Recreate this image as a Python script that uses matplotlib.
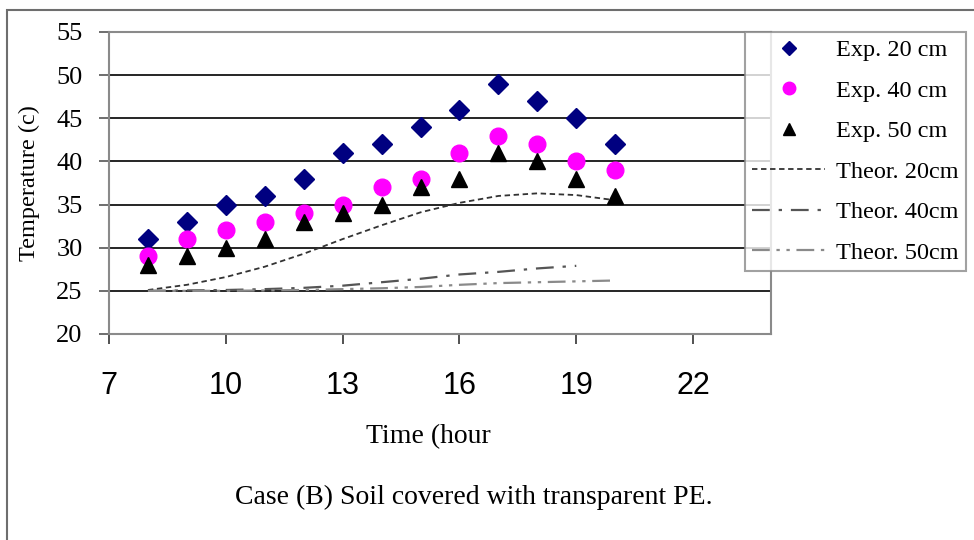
import matplotlib
matplotlib.use("Agg")
import matplotlib.pyplot as plt
from matplotlib import font_manager
from matplotlib.patches import Rectangle

# Hourly readings, 08:00 to 20:00
hours = [8, 9, 10, 11, 12, 13, 14, 15, 16, 17, 18, 19, 20]
exp_20 = [31, 33, 35, 36, 38, 41, 42, 44, 46, 49, 47, 45, 42]
exp_40 = [29, 31, 32, 33, 34, 35, 37, 38, 41, 43, 42, 40, 39]
exp_50 = [28, 29, 30, 31, 33, 34, 35, 37, 38, 41, 40, 38, 36]

theor_20 = [25.1, 25.7, 26.6, 27.8, 29.3, 31.0, 32.6, 34.1, 35.2, 36.0, 36.3, 36.1, 35.5]
hours_t40 = [8, 9, 10, 11, 12, 13, 14, 15, 16, 17, 18, 19]
theor_40 = [25.0, 25.05, 25.1, 25.2, 25.35, 25.6, 26.0, 26.4, 26.9, 27.2, 27.6, 27.9]
hours_t50 = [8, 9, 10, 11, 12, 13, 14, 15, 16, 17, 18, 19, 20]
theor_50 = [25.0, 25.0, 25.0, 25.05, 25.1, 25.2, 25.3, 25.45, 25.7, 25.9, 26.0, 26.1, 26.2]

x_ticks = [7, 10, 13, 16, 19, 22]
y_ticks = [20, 25, 30, 35, 40, 45, 50, 55]

available = {f.name for f in font_manager.fontManager.ttflist}
serif = "Liberation Serif"
narrow = "Liberation Sans Narrow" if "Liberation Sans Narrow" in available else "Liberation Sans"

W, H = 974, 540
fig = plt.figure(figsize=(W / 100, H / 100), dpi=100)

# outer frame of the figure panel
fig.add_artist(Rectangle((7 / W, -0.05), 1.2, 1 - 10 / H + 0.05,
                         transform=fig.transFigure, fill=False,
                         edgecolor="#6e6e6e", linewidth=1.5))

ax = fig.add_axes([109 / W, 1 - 334 / H, (771 - 109) / W, (334 - 32) / H])
ax.set_xlim(7, 24)
ax.set_ylim(20, 55)
ax.set_xticks(x_ticks)
ax.set_yticks(y_ticks)

for v in y_ticks[1:-1]:
    ax.axhline(v, color="black", linewidth=1.2, zorder=1)

for s in ax.spines.values():
    s.set_color("#8a8a8a")
    s.set_linewidth(1.5)

ax.tick_params(axis="y", direction="out", length=7, width=1.2, color="#555555",
               pad=12, labelsize=19)
ax.tick_params(axis="x", direction="out", length=7, width=1.2, color="#333333",
               pad=20, labelsize=22)
for lab in ax.get_yticklabels():
    lab.set_fontfamily(serif)
for lab in ax.get_xticklabels():
    lab.set_fontfamily(narrow)

ax.plot(hours, exp_20, linestyle="none", marker="D", markersize=10,
        color="#000080", label="Exp. 20 cm", zorder=4)
ax.plot(hours, exp_40, linestyle="none", marker="o", markersize=12,
        color="#ff00ff", label="Exp. 40 cm", zorder=4)
ax.plot(hours, exp_50, linestyle="none", marker="^", markersize=12,
        color="black", label="Exp. 50 cm", zorder=4)
ax.plot(hours, theor_20, color="#333333", linewidth=1.3,
        dashes=(3, 2), label="Theor. 20cm", zorder=3)
ax.plot(hours_t40, theor_40, color="#555555", linewidth=1.6,
        dashes=(8, 4, 1.5, 4), label="Theor. 40cm", zorder=3)
ax.plot(hours_t50, theor_50, color="#8a8a8a", linewidth=1.6,
        dashes=(8, 3, 1.5, 3, 1.5, 3), label="Theor. 50cm", zorder=3)

ax.set_ylabel("Temperature (c)", fontfamily=serif, fontsize=17.5, labelpad=12)

fig.text(428 / W, 1 - 437 / H, "Time (hour", fontfamily=serif, fontsize=20,
         ha="center", va="center")
fig.text(474 / W, 1 - 497 / H, "Case (B) Soil covered with transparent PE.",
         fontfamily=serif, fontsize=20, ha="center", va="center")

leg = fig.legend(loc="upper left", bbox_to_anchor=(745 / W, 1 - 32 / H),
                 borderaxespad=0, frameon=True, fancybox=False,
                 prop={"family": serif, "size": 17.5}, handlelength=3.0,
                 handletextpad=0.45, labelspacing=0.76, borderpad=0.3,
                 markerscale=0.75)
leg.get_frame().set_edgecolor("#8a8a8a")
leg.get_frame().set_linewidth(1.5)

fig.savefig("out.png", dpi=100)
